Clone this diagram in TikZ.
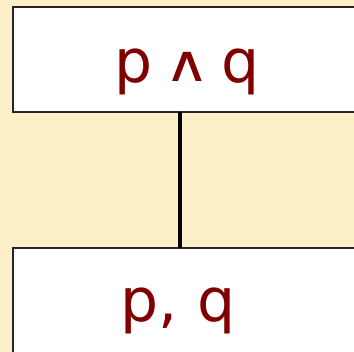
\documentclass[tikz,border=0pt]{standalone}
\usepackage{fontspec}
\usepackage{graphicx}
\setmainfont{DejaVu Sans}
\definecolor{bgc}{HTML}{FDEFC8}
\definecolor{txt}{HTML}{800000}
\begin{document}
\begin{tikzpicture}[x=1pt,y=1pt,
  box/.style={draw=black!85, line width=2.5pt, fill=white, rectangle, inner sep=0pt, outer sep=0pt, anchor=north west},
  lbl/.style={text=txt, font=\fontsize{60}{62}\selectfont, inner sep=0pt, anchor=base}]
\fill[bgc] (0,0) rectangle (354,352);
\useasboundingbox (0,0) rectangle (354,352);
\clip (0,0) rectangle (354,352);
\node[box, minimum width=370pt, minimum height=105pt] (top) at (13,345) {};
\node[box, minimum width=370pt, minimum height=130pt] (bot) at (13,104) {};
\coordinate (lx) at (180,0);
\draw[line width=4pt, black] (top.south -| lx) -- (bot.north -| lx);
\node[lbl] (t1) at (187,269) {p\hspace{12pt}\raisebox{1pt}{\scalebox{1.3}[1.05]{\fontsize{48}{48}\selectfont ∧}}\hspace{12pt}q};
\node[lbl] (t2) at (178,30) {p, q};
\end{tikzpicture}
\end{document}
